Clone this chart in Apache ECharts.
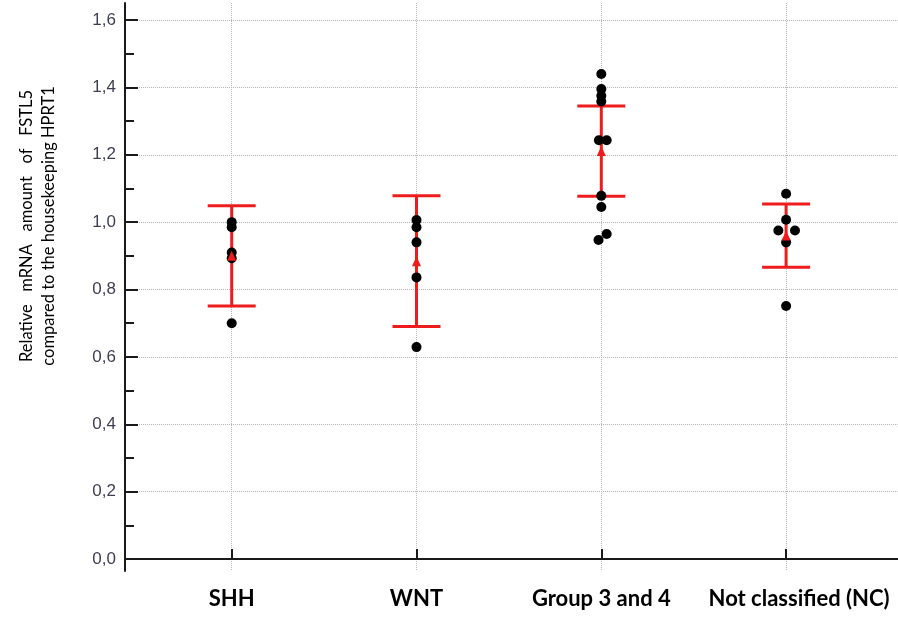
<!DOCTYPE html>
<html>
<head>
<meta charset="utf-8">
<script src="https://cdn.jsdelivr.net/npm/echarts@6/dist/echarts.min.js"></script>
<style>
  html, body { margin: 0; padding: 0; background: #fff; }
  #chart { width: 898px; height: 621px; }
</style>
</head>
<body>
<div id="chart"></div>
<script>
// Groups along the horizontal axis
const categories = ['SHH', 'WNT', 'Group 3 and 4', 'Not classified (NC)'];

// Individual samples per group (relative mRNA amount)
const shhValues = [1.000, 0.985, 0.910, 0.893, 0.700];
const wntValues = [1.006, 0.985, 0.940, 0.836, 0.629];
const group34Values = [1.440, 1.395, 1.375, 1.358, 1.243, 1.243, 1.078, 1.045, 0.965, 0.947];
const ncValues = [1.084, 1.007, 0.975, 0.975, 0.940, 0.751];

// Horizontal spread of overlapping samples (category units)
const shhJitter = [0, 0, 0, 0, 0];
const wntJitter = [0, 0, 0, 0, 0];
const group34Jitter = [0, 0, 0, 0, -0.013, 0.029, 0, 0, 0.029, -0.015];
const ncJitter = [0, 0, -0.042, 0.048, 0, 0];

// Group mean and standard deviation
const groupMeans = [0.900, 0.884, 1.211, 0.960];
const groupSDs = [0.149, 0.194, 0.134, 0.094];

// Tick positions
const majorTicks = [0, 0.2, 0.4, 0.6, 0.8, 1.0, 1.2, 1.4, 1.6];
const minorTicks = [0.1, 0.3, 0.5, 0.7, 0.9, 1.1, 1.3, 1.5];
const categoryTicks = [1, 2, 3, 4];

const sampleGroups = [
  [shhValues, shhJitter],
  [wntValues, wntJitter],
  [group34Values, group34Jitter],
  [ncValues, ncJitter]
];
const sampleData = [];
sampleGroups.forEach(([vals, jit], i) => {
  vals.forEach((v, k) => sampleData.push([i + 1 + jit[k], v]));
});
const meanData = groupMeans.map((m, i) => [i + 1, m]);
const errorData = groupMeans.map((m, i) => [i + 1, m, groupSDs[i]]);

const RED = '#ee1c1c';
const AXIS = '#1a1a1a';
const GRID = '#b4b4b4';

const chart = echarts.init(document.getElementById('chart'), null, { renderer: 'canvas' });

chart.setOption({
  animation: false,
  backgroundColor: '#ffffff',
  grid: { left: 125, right: 0, top: 3, bottom: 50, containLabel: false },
  xAxis: {
    type: 'value',
    min: 0.4226,
    max: 4.6055,
    axisLine: { show: true, lineStyle: { color: AXIS, width: 2 } },
    axisTick: { show: true, inside: true, length: 10, customValues: categoryTicks,
      lineStyle: { color: AXIS, width: 2 } },
    axisLabel: {
      customValues: categoryTicks,
      margin: 17,
      formatter: v => {
        const name = categories[Math.round(v) - 1];
        return Math.round(v) === 4 ? '{shift|' + name + '}' : name;
      },
      fontFamily: 'Lato',
      fontWeight: 'bold',
      fontSize: 22,
      color: '#000',
      rich: { shift: { fontFamily: 'Lato', fontWeight: 'bold', fontSize: 22, color: '#000', padding: [0, 0, 0, 26] } }
    },
    splitLine: { show: true, lineStyle: { color: GRID, type: 'dotted', width: 1 } }
  },
  yAxis: [
    {
      type: 'value',
      min: -0.0356,
      max: 1.6505,
      axisLine: { show: true, lineStyle: { color: AXIS, width: 2 } },
      axisTick: { show: true, inside: true, length: 13, customValues: majorTicks,
        lineStyle: { color: AXIS, width: 2 } },
      axisLabel: {
        customValues: majorTicks,
        margin: 9,
        formatter: v => v.toFixed(1).replace('.', ','),
        fontFamily: 'Liberation Sans',
        fontSize: 17,
        color: '#3e3e52'
      },
      splitLine: { show: true, lineStyle: { color: GRID, type: 'dotted', width: 1 } }
    },
    {
      type: 'value',
      position: 'left',
      min: -0.0356,
      max: 1.6505,
      axisLine: { show: false },
      axisTick: { show: true, inside: true, length: 9, customValues: minorTicks,
        lineStyle: { color: AXIS, width: 2 } },
      axisLabel: { show: false },
      splitLine: { show: false }
    }
  ],
  graphic: [
    {
      type: 'text',
      x: 38,
      y: 226,
      rotation: Math.PI / 2,
      style: {
        text: 'Relative   mRNA   amount   of   FSTL5\ncompared to the housekeeping HPRT1',
        fontFamily: 'Lato',
        fontSize: 16.5,
        lineHeight: 22,
        align: 'center',
        verticalAlign: 'middle',
        fill: '#000'
      }
    }
  ],
  series: [
    {
      type: 'custom',
      name: 'Mean ± SD',
      z: 2,
      data: errorData,
      renderItem: (params, api) => {
        const x = api.value(0), m = api.value(1), s = api.value(2);
        const top = api.coord([x, m + s]);
        const bot = api.coord([x, m - s]);
        const half = 24;
        const style = { stroke: RED, lineWidth: 3 };
        return {
          type: 'group',
          children: [
            { type: 'line', shape: { x1: top[0], y1: top[1], x2: bot[0], y2: bot[1] }, style },
            { type: 'line', shape: { x1: top[0] - half, y1: top[1], x2: top[0] + half, y2: top[1] }, style },
            { type: 'line', shape: { x1: bot[0] - half, y1: bot[1], x2: bot[0] + half, y2: bot[1] }, style }
          ]
        };
      }
    },
    {
      type: 'scatter',
      name: 'Samples',
      z: 3,
      symbol: 'circle',
      symbolSize: 10,
      itemStyle: { color: '#000', opacity: 1 },
      data: sampleData
    },
    {
      type: 'scatter',
      name: 'Mean',
      z: 4,
      symbol: 'triangle',
      symbolSize: [9, 10],
      itemStyle: { color: RED, opacity: 1 },
      data: meanData
    }
  ]
});
</script>
</body>
</html>
